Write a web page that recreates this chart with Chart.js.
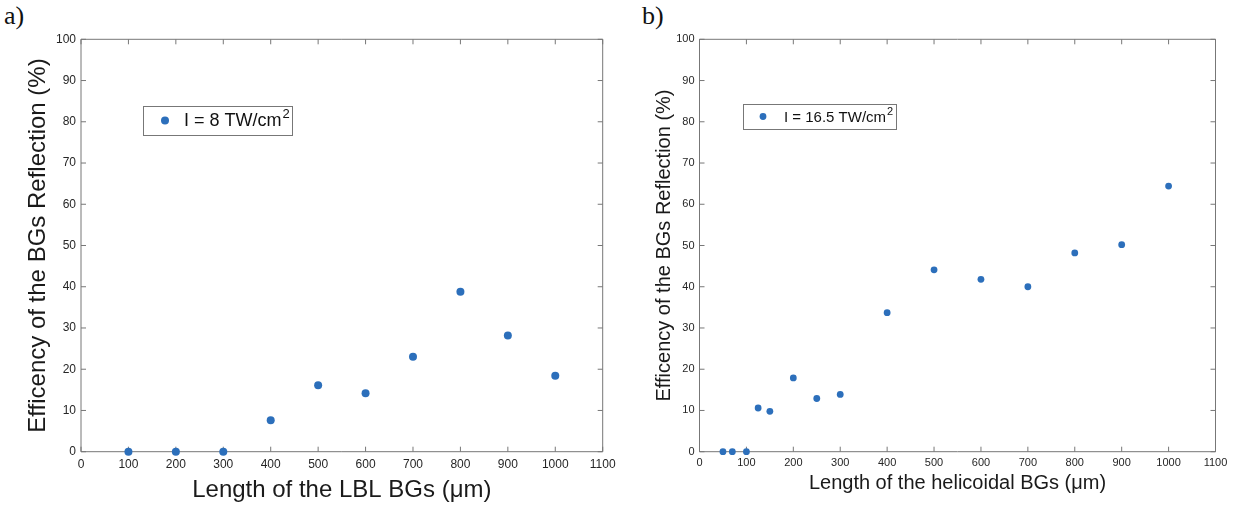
<!DOCTYPE html>
<html lang="en">
<head>
<meta charset="UTF-8">
<title>BGs reflection efficiency</title>
<script src="https://cdn.jsdelivr.net/npm/chart.js"></script>
<style>
  html, body { margin: 0; padding: 0; background: #fff; }
  body { width: 1244px; height: 507px; position: relative; overflow: hidden; }
  canvas { position: absolute; top: 0; }
  #chartA { left: 0; }
  #chartB { left: 622px; }
  .tag { position: absolute; top: 1px; font-family: "Liberation Serif", "Times New Roman", serif; font-size: 26px; color: #111; }
</style>
</head>
<body>
<div class="tag" style="left:4px">a)</div>
<div class="tag" style="left:642px">b)</div>
<canvas id="chartA" width="622" height="507"></canvas>
<canvas id="chartB" width="622" height="507"></canvas>

<script>
  // panel a) LBL BGs, I = 8 TW/cm2
  const lblLength = [100, 200, 300, 400, 500, 600, 700, 800, 900, 1000];
  const lblEff    = [0, 0, 0, 7.6, 16.1, 14.2, 23.0, 38.8, 28.2, 18.4];

  // panel b) helicoidal BGs, I = 16.5 TW/cm2
  const heliLength = [50, 70, 100, 125, 150, 200, 250, 300, 400, 500, 600, 700, 800, 900, 1000];
  const heliEff    = [0, 0, 0, 10.6, 9.8, 17.9, 12.9, 13.9, 33.7, 44.1, 41.8, 40.0, 48.2, 50.2, 64.4];

  const blue = '#2c6fbb';
  const txt = '#262626';
  const axisCol = '#777777';
  const family = '"Liberation Sans", Arial, Helvetica, sans-serif';

  // matlab style box with inward ticks on all four sides
  const matlabBox = {
    id: 'matlabBox',
    beforeDatasetsDraw(chart, args, opts) {
      const { ctx, chartArea: a, scales: { x, y } } = chart;
      ctx.save();
      ctx.strokeStyle = opts.color;
      ctx.lineWidth = 1;
      ctx.beginPath();
      ctx.rect(a.left, a.top, a.right - a.left, a.bottom - a.top);
      x.ticks.forEach(t => {
        const px = x.getPixelForValue(t.value);
        ctx.moveTo(px, a.bottom); ctx.lineTo(px, a.bottom - opts.len);
        ctx.moveTo(px, a.top); ctx.lineTo(px, a.top + opts.len);
      });
      y.ticks.forEach(t => {
        const py = y.getPixelForValue(t.value);
        ctx.moveTo(a.left, py); ctx.lineTo(a.left + opts.len, py);
        ctx.moveTo(a.right, py); ctx.lineTo(a.right - opts.len, py);
      });
      ctx.stroke();
      ctx.restore();
    }
  };

  // framed legend inside the axes, with superscript
  const boxLegend = {
    id: 'boxLegend',
    afterDraw(chart, args, o) {
      const ctx = chart.ctx;
      const ds = chart.data.datasets[0];
      ctx.save();
      ctx.fillStyle = '#fff';
      ctx.fillRect(o.left, o.top, o.width, o.height);
      ctx.strokeStyle = axisCol;
      ctx.lineWidth = 1;
      ctx.strokeRect(o.left + 0.5, o.top + 0.5, o.width, o.height);
      const cy = o.top + o.height / 2;
      ctx.fillStyle = ds.backgroundColor;
      ctx.beginPath();
      ctx.arc(o.markerX, cy, ds.pointRadius, 0, Math.PI * 2);
      ctx.fill();
      ctx.fillStyle = '#111';
      ctx.textAlign = 'left';
      ctx.textBaseline = 'middle';
      ctx.font = o.size + 'px ' + family;
      ctx.fillText(ds.label, o.textX, cy + 1);
      const w = ctx.measureText(ds.label).width;
      ctx.font = Math.round(o.size * 0.72) + 'px ' + family;
      ctx.fillText(o.sup, o.textX + w + 1, cy - o.size * 0.32);
      ctx.restore();
    }
  };

  function makeChart(id, lengths, effs, s) {
    return new Chart(document.getElementById(id), {
      type: 'scatter',
      data: {
        datasets: [{
          label: s.legendText,
          data: lengths.map((v, i) => ({ x: v, y: effs[i] })),
          backgroundColor: blue,
          borderColor: blue,
          borderWidth: 0,
          pointRadius: s.radius,
          pointHoverRadius: s.radius,
          clip: false
        }]
      },
      options: {
        responsive: false,
        animation: false,
        events: [],
        layout: { padding: { top: 39.3, right: s.padRight, bottom: 0, left: 0 } },
        plugins: {
          legend: { display: false },
          tooltip: { enabled: false },
          matlabBox: { color: axisCol, len: 5 },
          boxLegend: s.legend
        },
        scales: {
          x: {
            type: 'linear',
            min: 0,
            max: 1100,
            afterFit: sc => { sc.height = 55.3; },
            grid: { display: false, drawTicks: false },
            border: { display: false },
            ticks: { stepSize: 100, autoSkip: false, maxRotation: 0, padding: s.xTickPad, color: txt, font: { family, size: s.tickSize }, callback: v => String(v) },
            title: { display: true, text: s.xTitle, color: '#1a1a1a', font: { family, size: s.titleSize }, padding: { top: 0, bottom: s.xTitlePad } }
          },
          y: {
            type: 'linear',
            min: 0,
            max: 100,
            afterFit: sc => { sc.width = s.yWidth; },
            grid: { display: false, drawTicks: false },
            border: { display: false },
            ticks: { stepSize: 10, padding: 5, color: txt, font: { family, size: s.tickSize }, callback: v => String(v) },
            title: { display: true, text: 'Efficency of the BGs Reflection (%)', color: '#1a1a1a', font: { family, size: s.titleSize }, padding: { top: s.yTitlePad, bottom: 0 } }
          }
        }
      },
      plugins: [matlabBox, boxLegend]
    });
  }

  makeChart('chartA', lblLength, lblEff, {
    legendText: 'I = 8 TW/cm',
    radius: 4,
    padRight: 19.3,
    yWidth: 81,
    tickSize: 12,
    titleSize: 24,
    xTickPad: 6,
    xTitlePad: 2,
    yTitlePad: 23.6,
    xTitle: 'Length of the LBL BGs (\u03bcm)',
    legend: { left: 143, top: 106, width: 149, height: 29, markerX: 165, textX: 184, size: 18, sup: '2' }
  });

  makeChart('chartB', heliLength, heliEff, {
    legendText: 'I = 16.5 TW/cm',
    radius: 3.4,
    padRight: 28.5,
    yWidth: 77.5,
    tickSize: 11,
    titleSize: 20,
    xTickPad: 5,
    xTitlePad: 12,
    yTitlePad: 30,
    xTitle: 'Length of the helicoidal BGs (\u03bcm)',
    legend: { left: 121, top: 104, width: 153, height: 25, markerX: 141, textX: 162, size: 15, sup: '2' }
  });
</script>
</body>
</html>
